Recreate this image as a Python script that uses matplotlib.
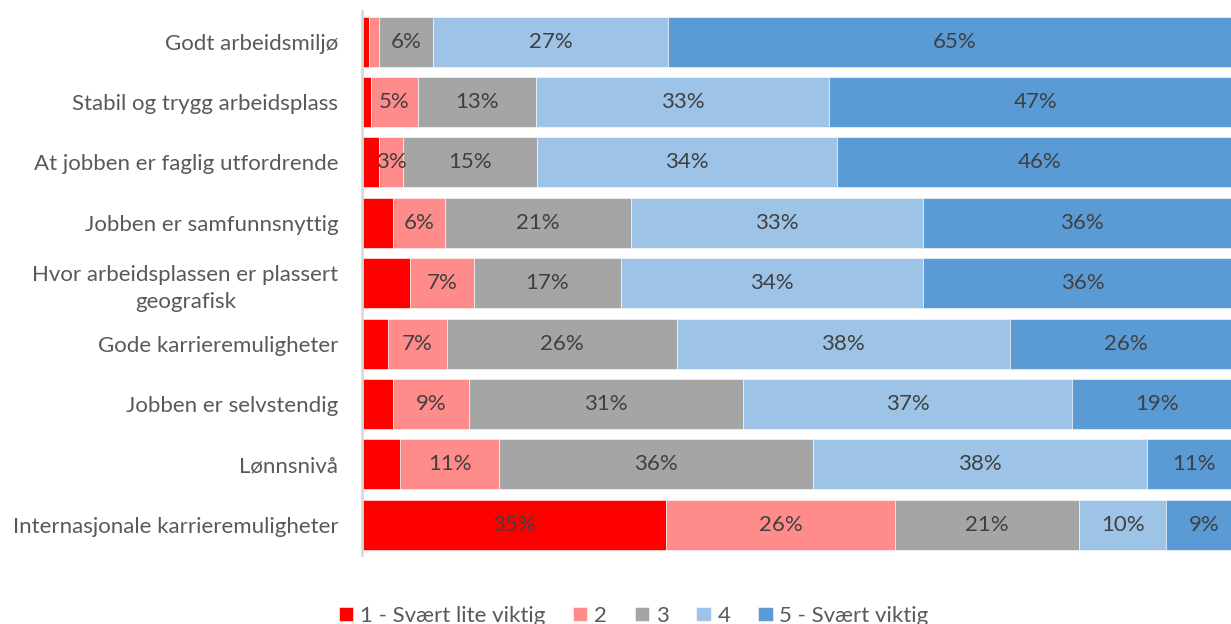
import numpy as np
import matplotlib.pyplot as plt

plt.rcParams['font.family'] = ['Lato', 'DejaVu Sans']

# Survey statements (top to bottom as in the chart)
statements = [
    'Godt arbeidsmiljø',
    'Stabil og trygg arbeidsplass',
    'At jobben er faglig utfordrende',
    'Jobben er samfunnsnyttig',
    'Hvor arbeidsplassen er plassert\ngeografisk',
    'Gode karrieremuligheter',
    'Jobben er selvstendig',
    'Lønnsnivå',
    'Internasjonale karrieremuligheter',
]

# Share of answers (%) per score
score1 = [0.8, 1.0, 1.9, 3.5, 5.5, 2.9, 3.5, 4.3, 34.6]
score2 = [1.1, 5.4, 2.8, 5.9, 7.2, 6.8, 8.7, 11.3, 26.0]
score3 = [6.2, 13.4, 15.2, 21.2, 16.7, 26.1, 31.1, 35.7, 20.9]
score4 = [26.7, 33.3, 34.1, 33.1, 34.4, 37.8, 37.4, 37.9, 9.9]
score5 = [65.2, 46.9, 46.0, 36.3, 36.2, 26.4, 19.3, 10.8, 8.6]

series_names = ['1 - Svært lite viktig', '2', '3', '4', '5 - Svært viktig']
colors = ['#FF0000', '#FF8B8B', '#A5A5A5', '#9DC3E6', '#5B9BD5']
# smallest value that still gets a data label, per series
min_label = [10, 2.5, 2.5, 2.5, 2.5]

fs = 16

fig = plt.figure(figsize=(12.31, 6.24), dpi=100)
ax = fig.add_axes([362 / 1231, 69 / 624, 880 / 1231, 543.6 / 624])

y = np.arange(len(statements))
left = np.zeros(len(statements))
for vals, name, col, thr in zip([score1, score2, score3, score4, score5],
                                series_names, colors, min_label):
    vals = np.array(vals)
    ax.barh(y, vals, left=left, height=0.83, color=col, label=name,
            edgecolor='white', linewidth=0.4)
    for yi, (l, v) in enumerate(zip(left, vals)):
        if v >= thr:
            ax.text(l + v / 2, yi, f'{round(v):.0f}%', ha='center', va='center',
                    fontsize=fs, color='#404040')
    left += vals

ax.set_xlim(0, 100)
ax.set_ylim(len(statements) - 0.5, -0.5)
ax.set_yticks(y)
ax.set_yticklabels(statements, fontsize=fs, color='#595959')
for lbl in ax.get_yticklabels():
    lbl.set_multialignment('center')
    lbl.set_linespacing(1.4)
ax.tick_params(axis='y', length=0, pad=17)
ax.set_xticks([])
for s in ['top', 'right', 'bottom']:
    ax.spines[s].set_visible(False)
ax.spines['left'].set_color('#D9D9D9')
ax.spines['left'].set_linewidth(2)

handles, labels = ax.get_legend_handles_labels()
leg = fig.legend(handles, labels, loc='center', bbox_to_anchor=(0.5146, 0.013),
                 ncol=5, frameon=False, fontsize=fs, handlelength=0.65,
                 handleheight=0.65, handletextpad=0.3, columnspacing=1.25)
for t in leg.get_texts():
    t.set_color('#595959')

fig.savefig('out.png', dpi=100)
